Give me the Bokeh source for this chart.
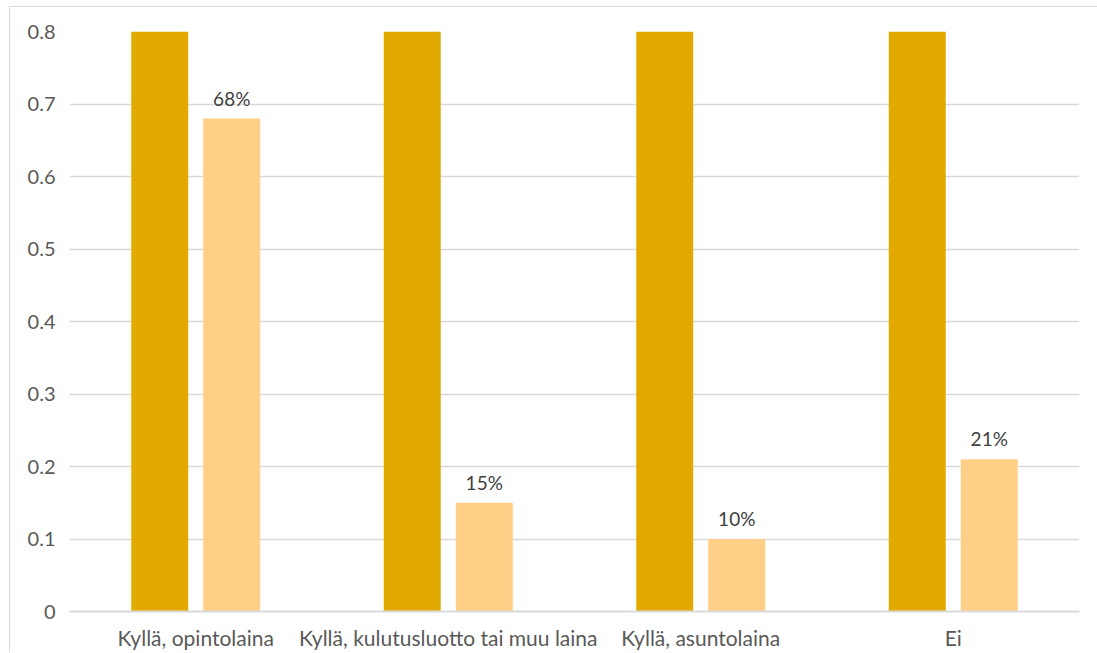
from bokeh.plotting import figure
from bokeh.models import ColumnDataSource, LabelSet, FactorRange, Range1d, FixedTicker
from bokeh.core.properties import value
from bokeh.transform import dodge
from bokeh.embed import file_html
from bokeh.resources import INLINE

categories = ["Kyllä, opintolaina", "Kyllä, kulutusluotto tai muu laina",
              "Kyllä, asuntolaina", "Ei"]
series_a = [1.0, 1.0, 1.0, 1.0]          # clipped above the 0.8 axis limit
series_b = [0.68, 0.15, 0.10, 0.21]
labels_b = ["68%", "15%", "10%", "21%"]
y_ticks = [0, 0.1, 0.2, 0.3, 0.4, 0.5, 0.6, 0.7, 0.8]
y_tick_labels = ["0", "0.1", "0.2", "0.3", "0.4", "0.5", "0.6", "0.7", "0.8"]

FONT = "Lato"
TEXT = "#595959"
GRID = "#d9d9d9"

src = ColumnDataSource(dict(cat=categories, a=series_a, b=series_b, lb=labels_b))

p = figure(x_range=FactorRange(factors=categories, range_padding=0),
           y_range=Range1d(0, 0.8),
           frame_width=1010, frame_height=580,
           min_border_left=59, min_border_right=18,
           min_border_top=24, min_border_bottom=35,
           output_backend="svg", toolbar_location=None)
p.styles = {"margin-left": "9px", "margin-top": "6px",
            "border-left": "1px solid #d9d9d9", "border-top": "1px solid #d9d9d9"}

p.vbar(x=dodge("cat", -0.1426, range=p.x_range), top="a", width=0.2257,
       source=src, color="#E2AA00", line_color=None)
p.vbar(x=dodge("cat", 0.1426, range=p.x_range), top="b", width=0.2257,
       source=src, color="#FFCF88", line_color=None)

labels = LabelSet(x=dodge("cat", 0.1426, range=p.x_range), y="b", text="lb",
                  source=src, text_align="center", text_baseline="bottom",
                  y_offset=9, text_font=value(FONT), text_font_size="19px",
                  text_color="#404040")
p.add_layout(labels)

p.outline_line_color = None
p.xgrid.grid_line_color = None
p.ygrid.grid_line_color = GRID
p.ygrid.grid_line_width = 1.5
p.ygrid.ticker = FixedTicker(ticks=y_ticks)

p.yaxis.ticker = FixedTicker(ticks=y_ticks)
p.yaxis.major_label_overrides = {t: l for t, l in zip(y_ticks, y_tick_labels)}
p.yaxis.axis_line_color = None
p.yaxis.major_tick_line_color = None
p.yaxis.minor_tick_line_color = None
p.yaxis.major_label_standoff = 8
p.yaxis.major_label_text_font = FONT
p.yaxis.major_label_text_font_size = "20px"
p.yaxis.major_label_text_color = TEXT

p.xaxis.axis_line_color = GRID
p.xaxis.axis_line_width = 2
p.xaxis.major_tick_line_color = None
p.xaxis.minor_tick_line_color = None
p.xaxis.major_label_standoff = 7
p.xaxis.major_label_text_font = FONT
p.xaxis.major_label_text_font_size = "21px"
p.xaxis.major_label_text_color = TEXT

open("out.html", "w").write(file_html(p, INLINE))
